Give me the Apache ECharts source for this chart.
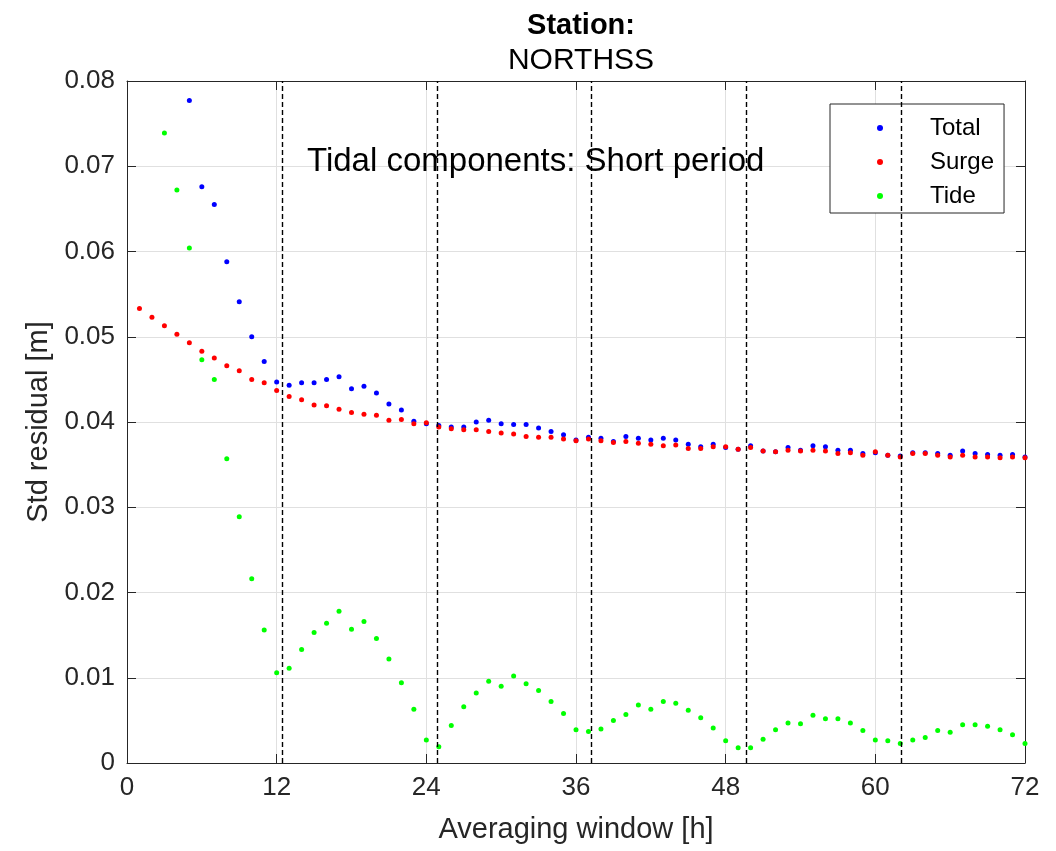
<!DOCTYPE html>
<html>
<head>
<meta charset="utf-8">
<script src="https://cdn.jsdelivr.net/npm/echarts@6/dist/echarts.min.js"></script>
<style>
  html, body { margin: 0; padding: 0; background: #fff; }
  #chart { width: 1056px; height: 851px; }
</style>
</head>
<body>
<div id="chart"></div>
<script>
const FONT = "'Liberation Sans', Arial, Helvetica, sans-serif";
const AXIS_COLOR = '#262626';

// averaging window start hour for each series
const totalStart = 5;
const surgeStart = 1;
const tideStart = 3;

// Std residual [m], one value per hour
const totalValues = [
  0.0777, 0.0676, 0.0655, 0.0588, 0.0541, 0.0500, 0.0471, 0.0447, 0.0443, 0.0446,
  0.0446, 0.0450, 0.0453, 0.0439, 0.0442, 0.0434, 0.0421, 0.0414, 0.0401, 0.0398,
  0.0396, 0.0394, 0.0394, 0.0400, 0.0402, 0.0398, 0.0397, 0.0397, 0.0393, 0.0389,
  0.0385, 0.0379, 0.0382, 0.0381, 0.0377, 0.0383, 0.0381, 0.0379, 0.0381, 0.0379,
  0.0374, 0.0371, 0.0374, 0.0370, 0.0368, 0.0372, 0.0366, 0.0365, 0.0370, 0.0367,
  0.0372, 0.0371, 0.0367, 0.0367, 0.0363, 0.0364, 0.0361, 0.0360, 0.0364, 0.0364,
  0.0363, 0.0361, 0.0366, 0.0363, 0.0362, 0.0361, 0.0362, 0.0359
];

const surgeValues = [
  0.0533, 0.0523, 0.0513, 0.0503, 0.0493, 0.0483, 0.0475, 0.0466, 0.0460, 0.0450,
  0.0446, 0.0437, 0.0430, 0.0426, 0.0420, 0.0419, 0.0415, 0.0411, 0.0409, 0.0408,
  0.0402, 0.0403, 0.0398, 0.0399, 0.0394, 0.0392, 0.0391, 0.0391, 0.0389, 0.0387,
  0.0386, 0.0383, 0.0382, 0.0382, 0.0380, 0.0378, 0.0380, 0.0378, 0.0376, 0.0377,
  0.0375, 0.0374, 0.0372, 0.0373, 0.0369, 0.0369, 0.0371, 0.0371, 0.0368, 0.0370,
  0.0366, 0.0365, 0.0367, 0.0366, 0.0367, 0.0366, 0.0363, 0.0364, 0.0361, 0.0365,
  0.0361, 0.0359, 0.0363, 0.0363, 0.0361, 0.0359, 0.0361, 0.0359, 0.0359, 0.0358,
  0.0359, 0.0358
];

const tideValues = [
  0.0739, 0.0672, 0.0604, 0.0473, 0.0450, 0.0357, 0.0289, 0.0216, 0.0156, 0.0106,
  0.0111, 0.0133, 0.0153, 0.0164, 0.0178, 0.0157, 0.0166, 0.0146, 0.0122, 0.0094,
  0.0063, 0.0027, 0.0019, 0.0044, 0.0066, 0.0082, 0.0096, 0.0090, 0.0102, 0.0093,
  0.0085, 0.0072, 0.0058, 0.0039, 0.0037, 0.0040, 0.0050, 0.0057, 0.0068, 0.0063,
  0.0072, 0.0070, 0.0062, 0.0053, 0.0041, 0.0026, 0.0018, 0.0018, 0.0028, 0.0039,
  0.0047, 0.0046, 0.0056, 0.0052, 0.0052, 0.0047, 0.0038, 0.0027, 0.0026, 0.0023,
  0.0027, 0.0030, 0.0038, 0.0036, 0.0045, 0.0045, 0.0043, 0.0039, 0.0033, 0.0023
];

// multiples of the M2 tidal period (12.42 h)
const periodLines = [12.42, 24.84, 37.26, 49.68, 62.10];

const toPairs = (start, values) => values.map((v, i) => [start + i, v]);

// matlab-like box: every side has a line and inward ticks
const axisLine = () => ({ show: true, onZero: false, lineStyle: { color: AXIS_COLOR, width: 1 } });
const axisTick = () => ({ show: true, inside: true, length: 9, lineStyle: { color: AXIS_COLOR } });
const gridLine = () => ({ show: true, lineStyle: { color: '#e0e0e0', width: 1 } });

const chart = echarts.init(document.getElementById('chart'));

chart.setOption({
  animation: false,
  backgroundColor: '#fff',
  textStyle: { fontFamily: FONT },
  title: {
    text: 'Station:',
    subtext: 'NORTHSS',
    left: 576,
    textAlign: 'center',
    top: 6,
    itemGap: 6,
    textStyle: { fontFamily: FONT, fontSize: 29, fontWeight: 'bold', color: '#000' },
    subtextStyle: { fontFamily: FONT, fontSize: 30, color: '#000' }
  },
  legend: {
    orient: 'vertical',
    left: 830,
    top: 104,
    padding: [12, 10, 5, 47],
    itemGap: 10,
    itemWidth: 6,
    itemHeight: 6,
    icon: 'circle',
    backgroundColor: '#fff',
    borderColor: AXIS_COLOR,
    borderWidth: 1,
    textStyle: { fontFamily: FONT, fontSize: 24, color: '#000', padding: [0, 0, 0, 42] },
    data: ['Total', 'Surge', 'Tide']
  },
  grid: { left: 127, right: 31, top: 81, bottom: 88 },
  xAxis: [
    {
      type: 'value',
      min: 0,
      max: 72,
      interval: 12,
      position: 'bottom',
      axisLine: axisLine(),
      axisTick: axisTick(),
      splitLine: gridLine(),
      axisLabel: { fontFamily: FONT, fontSize: 26, color: AXIS_COLOR, margin: 12 },
      name: 'Averaging window [h]',
      nameLocation: 'middle',
      nameGap: 52,
      nameTextStyle: { fontFamily: FONT, fontSize: 29, color: AXIS_COLOR }
    },
    {
      type: 'value',
      min: 0,
      max: 72,
      interval: 12,
      position: 'top',
      axisLine: axisLine(),
      axisTick: axisTick(),
      axisLabel: { show: false },
      splitLine: { show: false }
    }
  ],
  yAxis: [
    {
      type: 'value',
      min: 0,
      max: 0.08,
      interval: 0.01,
      position: 'left',
      axisLine: axisLine(),
      axisTick: axisTick(),
      splitLine: gridLine(),
      axisLabel: { fontFamily: FONT, fontSize: 26, color: AXIS_COLOR, margin: 12 },
      name: 'Std residual [m]',
      nameLocation: 'middle',
      nameGap: 70,
      nameTextStyle: { fontFamily: FONT, fontSize: 29, color: AXIS_COLOR }
    },
    {
      type: 'value',
      min: 0,
      max: 0.08,
      interval: 0.01,
      position: 'right',
      axisLine: axisLine(),
      axisTick: axisTick(),
      axisLabel: { show: false },
      splitLine: { show: false }
    }
  ],
  graphic: [
    {
      type: 'text',
      left: 307,
      top: 145,
      z: 1,
      style: {
        text: 'Tidal components: Short period',
        font: '33px ' + FONT,
        fill: '#000'
      }
    }
  ],
  series: [
    {
      name: 'Total',
      type: 'scatter',
      symbol: 'circle',
      symbolSize: 5,
      itemStyle: { color: '#0000ff', opacity: 1 },
      data: toPairs(totalStart, totalValues)
    },
    {
      name: 'Surge',
      type: 'scatter',
      symbol: 'circle',
      symbolSize: 5,
      itemStyle: { color: '#ff0000', opacity: 1 },
      data: toPairs(surgeStart, surgeValues)
    },
    {
      name: 'Tide',
      type: 'scatter',
      symbol: 'circle',
      symbolSize: 5,
      itemStyle: { color: '#00ff00', opacity: 1 },
      data: toPairs(tideStart, tideValues),
      markLine: {
        silent: true,
        symbol: 'none',
        label: { show: false },
        lineStyle: { color: '#000', width: 1.4, type: [5, 3] },
        data: periodLines.map(x => ({ xAxis: x }))
      }
    }
  ]
});
</script>
</body>
</html>
